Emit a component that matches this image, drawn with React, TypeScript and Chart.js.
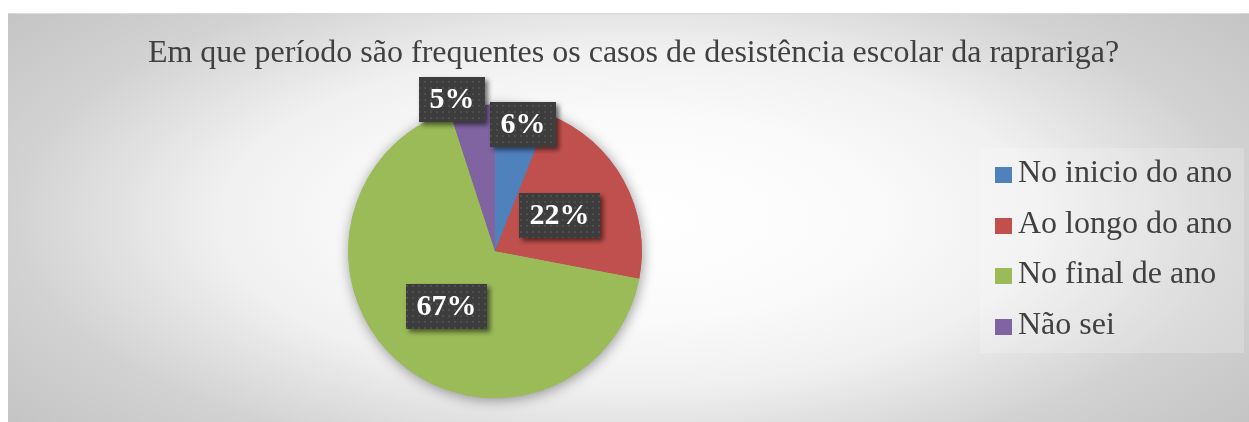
import React, { useEffect, useRef } from 'react';
import { Chart, registerables, layouts } from 'chart.js';

Chart.register(...registerables);

const TITLE = 'Em que período são frequentes os casos de desistência escolar da raprariga?';
const categories = ['No inicio do ano', 'Ao longo do ano', 'No final de ano', 'Não sei'];
const percentages = [6, 22, 67, 5];
const sliceColors = ['#4F81BD', '#C0504D', '#9BBB59', '#8064A2'];

// label placement (style): fraction of radius and angular shift in degrees
const labelRadius = [0.885, 0.5, 0.5, 1.075];
const labelAngleShift = [1.6, 0, 0, -6.8];

const W = 1241;
const H = 409;
const FONT = '"Liberation Serif", "Times New Roman", serif';
const TEXT_COLOR = '#404040';

function makePattern(ctx: CanvasRenderingContext2D) {
  const c = document.createElement('canvas');
  c.width = 6;
  c.height = 6;
  const p = c.getContext('2d')!;
  p.fillStyle = '#3d3d3d';
  p.fillRect(0, 0, 6, 6);
  p.fillStyle = '#4f4f4f';
  p.fillRect(2, 2, 2, 2);
  return ctx.createPattern(c, 'repeat');
}

const backgroundPlugin = {
  id: 'bgGradient',
  beforeDraw(chart: any) {
    const { ctx, width, height } = chart;
    const cx = width / 2;
    const cy = height / 2;
    const rx = 820;
    const ry = 340;
    ctx.save();
    ctx.translate(cx, cy);
    ctx.scale(rx / ry, 1);
    const g = ctx.createRadialGradient(0, 0, 0, 0, 0, ry);
    g.addColorStop(0, '#ffffff');
    g.addColorStop(0.3, '#fafafa');
    g.addColorStop(0.5, '#f0f0f0');
    g.addColorStop(0.75, '#d2d2d2');
    g.addColorStop(1, '#c2c2c2');
    ctx.fillStyle = g;
    ctx.fillRect((-cx * ry) / rx, -cy, (width * ry) / rx, height);
    ctx.restore();
    ctx.save();
    ctx.strokeStyle = '#d9d9d9';
    ctx.lineWidth = 1;
    ctx.beginPath();
    ctx.moveTo(0, 0.5);
    ctx.lineTo(width, 0.5);
    ctx.stroke();
    ctx.restore();
  },
};

const pieShadowPlugin = {
  id: 'pieShadow',
  beforeDatasetsDraw(chart: any) {
    const { ctx } = chart;
    const meta = chart.getDatasetMeta(0);
    ctx.save();
    ctx.shadowColor = 'rgba(0,0,0,0.4)';
    ctx.shadowBlur = 13;
    ctx.shadowOffsetX = 1;
    ctx.shadowOffsetY = 2;
    meta.data.forEach((arc: any) => arc.draw(ctx));
    ctx.restore();
  },
};

const labelPlugin = {
  id: 'boxLabels',
  afterDatasetsDraw(chart: any) {
    const { ctx } = chart;
    const meta = chart.getDatasetMeta(0);
    const pattern = makePattern(ctx);
    ctx.save();
    ctx.font = `bold 30px ${FONT}`;
    meta.data.forEach((arc: any, i: number) => {
      const { x, y, startAngle, endAngle, outerRadius } = arc.getProps(
        ['x', 'y', 'startAngle', 'endAngle', 'outerRadius'],
        true
      );
      const mid = (startAngle + endAngle) / 2 + (labelAngleShift[i] * Math.PI) / 180;
      const r = outerRadius * labelRadius[i];
      const cx = x + Math.cos(mid) * r;
      const cy = y + Math.sin(mid) * r;
      const text = `${percentages[i]}%`;
      const tw = ctx.measureText(text).width;
      const bw = Math.round(tw + 21);
      const bh = 45;
      const bx = Math.round(cx - bw / 2);
      const by = Math.round(cy - bh / 2);
      ctx.save();
      ctx.shadowColor = 'rgba(0,0,0,0.55)';
      ctx.shadowBlur = 5;
      ctx.shadowOffsetX = 3;
      ctx.shadowOffsetY = 3;
      ctx.fillStyle = pattern || '#3d3d3d';
      ctx.fillRect(bx, by, bw, bh);
      ctx.restore();
      ctx.fillStyle = '#ffffff';
      ctx.textAlign = 'center';
      ctx.textBaseline = 'middle';
      ctx.fillText(text, bx + bw / 2, by + bh / 2 + 1);
    });
    ctx.restore();
  },
};

function createLegendBox(chart: any) {
  const box: any = {
    position: 'right',
    weight: 1000,
    fullSize: false,
    options: {},
    left: 0,
    top: 0,
    right: 0,
    bottom: 0,
    width: 0,
    height: 0,
    isHorizontal() {
      return false;
    },
    update(_maxWidth: number, maxHeight: number) {
      this.width = 277;
      this.height = maxHeight;
    },
    draw() {
      const ctx: CanvasRenderingContext2D = chart.ctx;
      const mid = (this.top + this.bottom) / 2;
      ctx.save();
      ctx.fillStyle = 'rgba(255,255,255,0.2)';
      ctx.fillRect(this.left + 8, Math.round(mid - 103), 264, 205);
      ctx.font = `32px ${FONT}`;
      ctx.textAlign = 'left';
      ctx.textBaseline = 'middle';
      categories.forEach((label, i) => {
        const rowY = mid - 75.75 + i * 50.5;
        ctx.fillStyle = sliceColors[i];
        ctx.fillRect(this.left + 23, Math.round(rowY - 8), 17, 16);
        ctx.fillStyle = TEXT_COLOR;
        ctx.fillText(label, this.left + 46, rowY - 1.5);
      });
      ctx.restore();
    },
  };
  return box;
}

const legendPlugin = {
  id: 'customLegendBox',
  beforeInit(chart: any) {
    layouts.addBox(chart, createLegendBox(chart));
  },
};

export default function App() {
  const canvasRef = useRef<HTMLCanvasElement | null>(null);

  useEffect(() => {
    if (!canvasRef.current) return;
    const chart = new Chart(canvasRef.current, {
      type: 'pie',
      data: {
        labels: categories,
        datasets: [
          {
            data: percentages,
            backgroundColor: sliceColors,
            borderWidth: 0,
            hoverOffset: 0,
            offset: 0,
          },
        ],
      },
      options: {
        responsive: false,
        animation: false,
        events: [],
        layout: { padding: { left: 10, right: 0, top: 0, bottom: 24 } },
        plugins: {
          legend: { display: false },
          tooltip: { enabled: false },
          title: {
            display: true,
            text: TITLE,
            color: TEXT_COLOR,
            font: { family: FONT, size: 32, weight: 'normal', lineHeight: 1.2 },
            padding: { top: 21, bottom: 32 },
          },
        },
      },
      plugins: [backgroundPlugin, pieShadowPlugin, labelPlugin, legendPlugin],
    } as any);
    return () => chart.destroy();
  }, []);

  return (
    <div style={{ position: 'absolute', left: 8, top: 13, width: W, height: H }}>
      <canvas ref={canvasRef} width={W} height={H} style={{ display: 'block' }} />
    </div>
  );
}
